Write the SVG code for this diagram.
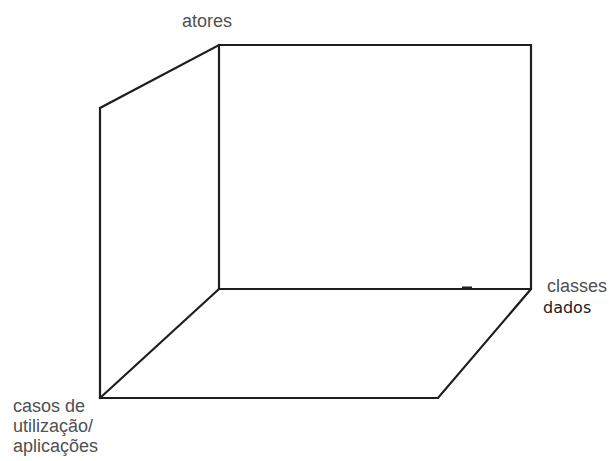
<svg xmlns="http://www.w3.org/2000/svg" width="609" height="461" viewBox="0 0 609 461">
<style>
.e{stroke:#1e1e1e;stroke-width:2.2;fill:none;stroke-linecap:square;stroke-linejoin:miter}
.t{font-family:"Liberation Sans",Arial,sans-serif;font-size:18px;fill:#505050}
.d{font-family:"DejaVu Sans",Verdana,sans-serif;font-size:16px;fill:#1a1a1a}
</style>
<rect width="609" height="461" fill="#ffffff"/>
<g id="connectors">
<polyline class="e" points="100,398 100,108 219,45 531,45 531,289 438,398 100,398"/>
<line class="e" x1="219" y1="45" x2="219" y2="289"/>
<line class="e" x1="219" y1="289" x2="531" y2="289"/>
<line class="e" x1="219" y1="289" x2="100" y2="398"/>
<line x1="462" y1="288" x2="472" y2="288" stroke="#1e1e1e" stroke-width="3"/>
</g>
<g id="atores"><text class="t" x="182" y="27">atores</text></g>
<g id="classes"><text class="t" x="547" y="292">classes</text><text class="d" x="543" y="313">dados</text></g>
<g id="casos"><text class="t" x="13" y="412">casos de</text><text class="t" x="13" y="432">utilização/</text><text class="t" x="13" y="452">aplicações</text></g>
</svg>
